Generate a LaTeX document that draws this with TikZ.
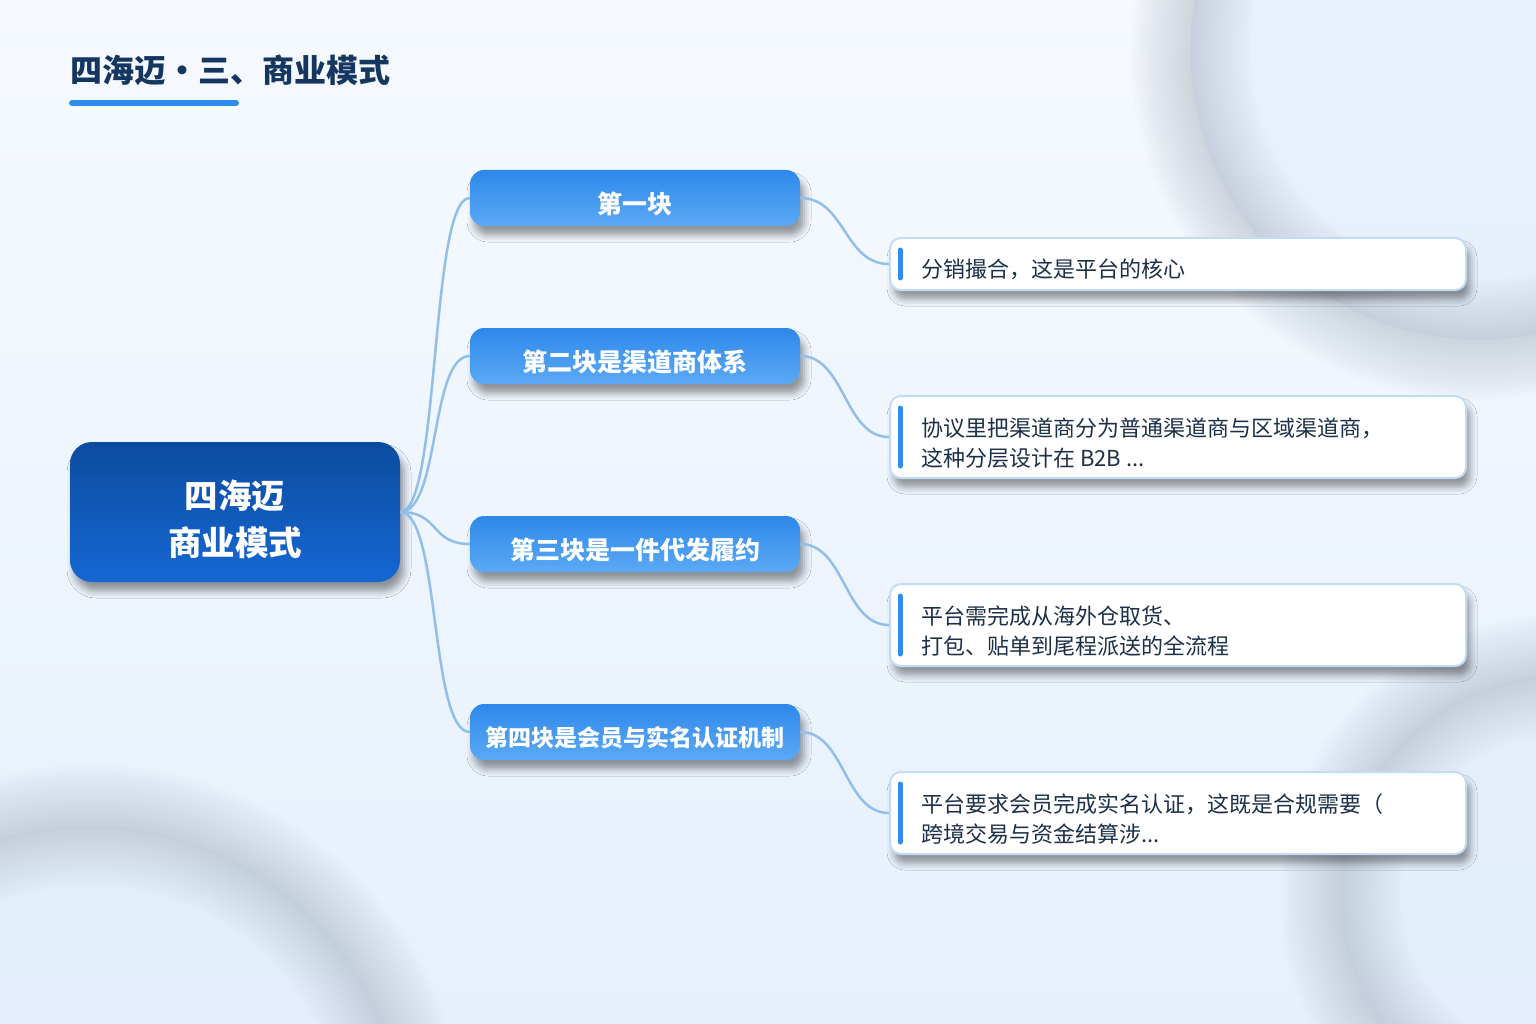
\documentclass[tikz,border=0pt]{standalone}
\usepackage{fontspec}
\setmainfont{Noto Sans CJK SC}
\usetikzlibrary{shadows.blur,calc}
\definecolor{bgtop}{HTML}{F6FAFE}
\definecolor{bgbot}{HTML}{E6F0FC}
\definecolor{ringin}{HTML}{E2EDFB}
\definecolor{ringcol}{HTML}{8C96A5}
\definecolor{titlecol}{HTML}{15375F}
\definecolor{accentcol}{HTML}{2F8CF0}
\definecolor{roottop}{HTML}{0B4C9F}
\definecolor{rootbot}{HTML}{1667D4}
\definecolor{brtop}{HTML}{2E88EA}
\definecolor{brbot}{HTML}{5CA9F5}
\definecolor{leafborder}{HTML}{C3DCF6}
\definecolor{leaftext}{HTML}{1D3049}
\definecolor{conncol}{HTML}{92BFE9}
\newcommand\softring[2]{%
  \foreach \w in {120,112,...,8}{%
    \draw[ringcol, line width=\w pt, opacity=0.024] #1 circle[radius=#2];}%
}
\tikzset{
  nodeshadow/.style={blur shadow={shadow xshift=4pt, shadow yshift=-9pt, shadow blur radius=7pt, shadow opacity=40}},
  rootbox/.style={rounded corners=22pt, minimum width=330pt, minimum height=140pt,
    top color=roottop, bottom color=rootbot, nodeshadow},
  roottext/.style={text=white, align=center, inner sep=0pt,
    font=\bfseries\fontsize{33.5}{47}\selectfont},
  branchbox/.style={rounded corners=14pt, minimum width=330pt, minimum height=56pt,
    top color=brtop, bottom color=brbot, nodeshadow},
  branchtext/.style={text=white, inner sep=0pt, font=\bfseries\fontsize{25}{30}\selectfont},
  leafbox/.style={rounded corners=11pt, fill=white, draw=leafborder, line width=2pt,
    minimum width=576pt, nodeshadow},
  leaftextstyle/.style={anchor=west, inner sep=0pt, text=leaftext, align=left,
    font=\fontsize{22}{30}\selectfont},
  accentbar/.style={draw=accentcol, line width=5pt, line cap=round},
  conn/.style={draw=conncol, line width=2.5pt},
  titletext/.style={anchor=west, inner sep=0pt, text=titlecol, font=\bfseries\fontsize{32}{38}\selectfont},
  titlebar/.style={draw=accentcol, line width=6pt, line cap=round}
}
\begin{document}
\begin{tikzpicture}[x=1pt,y=-1pt]
\useasboundingbox (0,0) rectangle (1536,1024);
% background
\fill[top color=bgtop, bottom color=bgbot] (0,0) rectangle (1536,1024);
\begin{scope}
  \clip (0,0) rectangle (1536,1024);
  \fill[ringin, opacity=0.7] (1480,50) circle[radius=290];
  \fill[ringin, opacity=0.7] (90,1140) circle[radius=315];
  \fill[ringin, opacity=0.7] (1560,895) circle[radius=220];
  \softring{(1480,50)}{290}
  \softring{(90,1140)}{315}
  \softring{(1560,895)}{220}
\end{scope}
% title
\node[titletext] (title) at (70,70) {四海迈・三、商业模式};
\coordinate (barA) at (72,103);
\coordinate (barB) at (236,103);
\draw[titlebar] (barA) -- (barB);
% boxes
\node[rootbox] (root) at (235,512) {};
\node[branchbox] (b1) at (635,198) {};
\node[branchbox] (b2) at (635,356) {};
\node[branchbox] (b3) at (635,544) {};
\node[branchbox] (b4) at (635,732) {};
\node[leafbox, minimum height=52pt] (l1) at (1178,264) {};
\node[leafbox, minimum height=82pt] (l2) at (1178,437) {};
\node[leafbox, minimum height=82pt] (l3) at (1178,625) {};
\node[leafbox, minimum height=82pt] (l4) at (1178,813) {};
% texts
\node[roottext] (roott) at ($(root.center)+(0,7)$) {四海迈\\商业模式};
\node[branchtext] (b1t) at ($(b1.center)+(0,6)$) {第一块};
\node[branchtext] (b2t) at ($(b2.center)+(0,6)$) {第二块是渠道商体系};
\node[branchtext] (b3t) at ($(b3.center)+(0,6)$) {第三块是一件代发履约};
\node[branchtext, font=\bfseries\fontsize{23}{28}\selectfont] (b4t) at ($(b4.center)+(0,6)$) {第四块是会员与实名认证机制};
\node[leaftextstyle] (l1t) at ($(l1.west)+(32,5)$) {分销撮合，这是平台的核心};
\node[leaftextstyle] (l2t) at ($(l2.west)+(32,6)$) {协议里把渠道商分为普通渠道商与区域渠道商，\\这种分层设计在 B2B ...};
\node[leaftextstyle] (l3t) at ($(l3.west)+(32,6)$) {平台需完成从海外仓取货、\\打包、贴单到尾程派送的全流程};
\node[leaftextstyle] (l4t) at ($(l4.west)+(32,6)$) {平台要求会员完成实名认证，这既是合规需要（\\跨境交易与资金结算涉...};
% accent bars
\foreach \n in {l1,l2,l3,l4}{
  \draw[accentbar] ($(\n.north west)+(11,13)$) -- ($(\n.south west)+(11,-13)$);
}
% connectors
\foreach \b in {b1,b2,b3,b4}{
  \draw[conn] (root.east) .. controls +(40,0) and +(-40,0) .. (\b.west);
}
\draw[conn] (b1.east) .. controls +(45,0) and +(-45,0) .. (l1.west);
\draw[conn] (b2.east) .. controls +(45,0) and +(-45,0) .. (l2.west);
\draw[conn] (b3.east) .. controls +(45,0) and +(-45,0) .. (l3.west);
\draw[conn] (b4.east) .. controls +(45,0) and +(-45,0) .. (l4.west);
\end{tikzpicture}
\end{document}
